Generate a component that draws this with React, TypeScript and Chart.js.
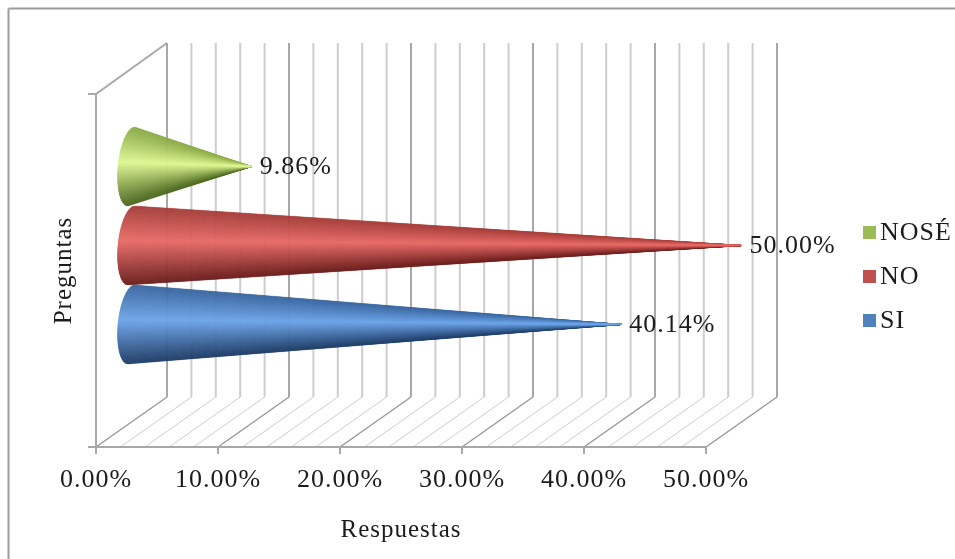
import React, { useEffect, useRef } from "react";
import { Chart, registerables } from "chart.js";

Chart.register(...registerables);

// Survey answers, listed top to bottom as the legend shows them.
const categories = [""];
const seriesNames = ["NOSÉ", "NO", "SI"];
const nose = [9.86];
const no = [50.0];
const si = [40.14];
const seriesValues = [nose, no, si];
const swatchColors = ["#9bbb59", "#c0504d", "#4f81bd"];

// Cone shading from the upper edge, through the highlight, to the lower edge.
const coneShades = [
  [[136, 168, 68], [222, 246, 146], [72, 100, 28]],
  [[164, 60, 56], [230, 106, 102], [104, 28, 26]],
  [[56, 100, 158], [108, 164, 232], [28, 58, 100]],
];

const FONT = "'Liberation Serif', serif";
const INK = "#1c1c1c";
const DEPTH_X = 71;
const DEPTH_Y = 50;
const WALL_TOP = 43;
const MAJOR_LINE = "#a8a8a8";
const MINOR_LINE = "#cdcdcd";
const HIGHLIGHT_AT = -0.12;

const pct = (v: number) => `${v.toFixed(2)}%`;
const mix = (a: number[], b: number[], k: number) =>
  `rgb(${a.map((c, i) => Math.round(c + (b[i] - c) * k)).join(",")})`;

function segment(ctx: any, x0: number, y0: number, x1: number, y1: number, color: string, width: number) {
  ctx.strokeStyle = color;
  ctx.lineWidth = width;
  ctx.beginPath();
  ctx.moveTo(x0, y0);
  ctx.lineTo(x1, y1);
  ctx.stroke();
}

// A cone lying on its side: thin wedges from the curved base to the tip, so the shading tapers.
// Wedges are painted from the edges inward, leaving the body colour on top at the tip.
function drawCone(ctx: any, baseX: number, tipX: number, cy: number, radius: number, shade: number[][]) {
  const steps = 140;
  const bulge = 13.5;
  const tilt = -3.5;
  const point = (t: number) => [baseX - bulge * Math.sqrt(Math.max(0, 1 - t * t)) + tilt * t, cy + radius * t];
  const wedges = Array.from({ length: steps }, (_, i) => -1 + (2 * i) / steps);
  wedges.sort((p, q) => Math.abs(q + 1 / steps - HIGHLIGHT_AT) - Math.abs(p + 1 / steps - HIGHLIGHT_AT));
  ctx.lineJoin = "bevel";
  wedges.forEach((t0) => {
    const t1 = t0 + 2 / steps;
    const mid = (t0 + t1) / 2;
    const color =
      mid < HIGHLIGHT_AT
        ? mix(shade[0], shade[1], (mid + 1) / (1 + HIGHLIGHT_AT))
        : mix(shade[1], shade[2], (mid - HIGHLIGHT_AT) / (1 - HIGHLIGHT_AT));
    const [ax, ay] = point(t0);
    const [bx, by] = point(t1);
    ctx.fillStyle = color;
    ctx.strokeStyle = color;
    ctx.lineWidth = 0.4;
    ctx.beginPath();
    ctx.moveTo(ax, ay);
    ctx.lineTo(bx, by);
    ctx.lineTo(tipX, cy);
    ctx.closePath();
    ctx.fill();
    ctx.stroke();
  });
}

const applySpacing = (chart: any) => {
  chart.ctx.letterSpacing = "1px";
};

const conePlot = {
  id: "conePlot",
  beforeUpdate: applySpacing,
  beforeDraw(chart: any) {
    const { ctx, width, height } = chart;
    applySpacing(chart);
    ctx.save();
    ctx.fillStyle = "#ffffff";
    ctx.fillRect(0, 0, width, height);
    // Outer frame: only the top and left edges fall inside the canvas.
    segment(ctx, 8.5, height, 8.5, 8.5, "#9c9c9c", 2);
    segment(ctx, 8.5, 8.5, width, 8.5, "#9c9c9c", 2);
    ctx.restore();
  },
  beforeDatasetsDraw(chart: any) {
    const { ctx, chartArea, scales } = chart;
    const { top, bottom, left } = chartArea;
    const wallBottom = bottom - DEPTH_Y;

    ctx.save();
    // Back wall and floor lines, one family per x tick.
    scales.x.ticks.forEach((tick: any) => {
      const x = scales.x.getPixelForValue(tick.value);
      const major = tick.value % 10 === 0;
      segment(ctx, x + DEPTH_X, WALL_TOP, x + DEPTH_X, wallBottom, major ? MAJOR_LINE : MINOR_LINE, 2);
      segment(ctx, x, bottom, x + DEPTH_X, wallBottom, major ? "#9a9a9a" : MINOR_LINE, major ? 1.5 : 1);
      if (major) segment(ctx, x, bottom, x, bottom + 7, MAJOR_LINE, 2);
    });
    // Side wall and the front edges of the box.
    segment(ctx, left, top, left, bottom, MAJOR_LINE, 2);
    segment(ctx, left, top, left + DEPTH_X, WALL_TOP, MAJOR_LINE, 2);
    segment(ctx, left - 8, top, left, top, MAJOR_LINE, 2);
    segment(ctx, left - 8, bottom, chartArea.right, bottom, MAJOR_LINE, 2);

    // Cones sit halfway into the depth; the lower series is painted over the upper one.
    seriesValues.forEach((values, i) => {
      const bar = chart.getDatasetMeta(i).data[0];
      const cy = bar.y - DEPTH_Y / 2;
      const tipX = bar.x + DEPTH_X / 2;
      drawCone(ctx, bar.base + DEPTH_X / 2, tipX, cy, bar.height / 2, coneShades[i]);
    });

    ctx.font = `26px ${FONT}`;
    ctx.textAlign = "left";
    ctx.textBaseline = "middle";
    ctx.fillStyle = INK;
    seriesValues.forEach((values, i) => {
      const bar = chart.getDatasetMeta(i).data[0];
      ctx.fillText(pct(values[0]), bar.x + DEPTH_X / 2 + 8, bar.y - DEPTH_Y / 2 + 1);
    });

    // Legend column to the right of the box.
    seriesNames.forEach((name, i) => {
      const rowY = 232.5 + i * 44;
      ctx.fillStyle = swatchColors[i];
      ctx.fillRect(863, rowY - 6.5, 13, 13);
      ctx.fillStyle = INK;
      ctx.fillText(name, 880, rowY + 0.5);
    });
    ctx.restore();
    return false;
  },
};

export default function App() {
  const canvasRef = useRef<HTMLCanvasElement>(null);

  useEffect(() => {
    const chart = new Chart(canvasRef.current as HTMLCanvasElement, {
      type: "bar",
      data: {
        labels: categories,
        datasets: seriesNames.map((name, i) => ({
          label: name,
          data: seriesValues[i],
          backgroundColor: swatchColors[i],
          categoryPercentage: 0.671,
          barPercentage: 1,
        })),
      },
      options: {
        indexAxis: "y",
        responsive: false,
        animation: false,
        layout: { padding: { top: 94, right: 249, bottom: 0, left: 0 } },
        scales: {
          x: {
            type: "linear",
            min: 0,
            max: 50,
            grid: { display: false },
            border: { display: false },
            ticks: {
              stepSize: 2,
              autoSkip: false,
              maxRotation: 0,
              padding: 10,
              color: INK,
              font: { family: FONT, size: 26 },
              callback: (v: any) => (Number(v) % 10 === 0 ? pct(Number(v)) : ""),
            },
            title: {
              display: true,
              text: "Respuestas",
              color: INK,
              font: { family: FONT, size: 25 },
              padding: { top: 0, bottom: 14 },
            },
            afterFit: (axis: any) => {
              axis.height = 112;
            },
          },
          y: {
            type: "category",
            grid: { display: false },
            border: { display: false },
            ticks: { display: false },
            title: {
              display: true,
              text: "Preguntas",
              color: INK,
              font: { family: FONT, size: 25 },
              padding: { top: 49, bottom: 0 },
            },
            afterFit: (axis: any) => {
              axis.width = 96;
            },
          },
        },
        plugins: {
          tooltip: { enabled: false },
          legend: { display: false },
        },
      } as any,
      plugins: [conePlot],
    });
    return () => chart.destroy();
  }, []);

  return (
    <div style={{ position: "fixed", left: 0, top: 0 }}>
      <canvas ref={canvasRef} width={955} height={559} style={{ display: "block" }} />
    </div>
  );
}
